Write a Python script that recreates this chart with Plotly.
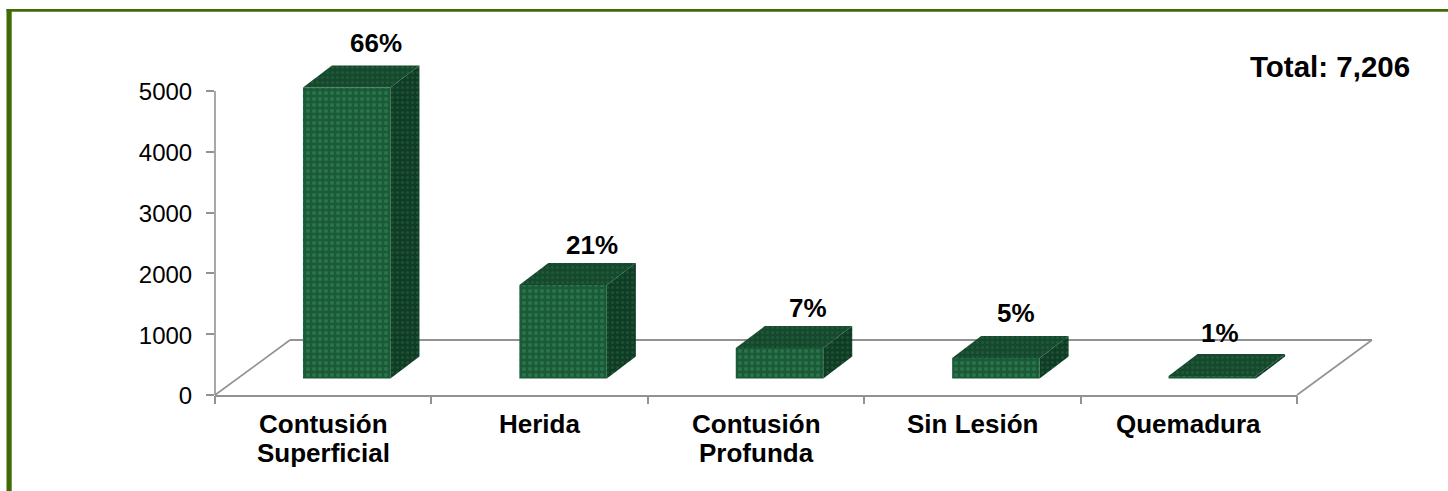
import plotly.graph_objects as go

category_lines = [["Contusión", "Superficial"], ["Herida"], ["Contusión", "Profunda"], ["Sin Lesión"], ["Quemadura"]]
values = [4786, 1538, 500, 337, 40]
percent_labels = ["66%", "21%", "7%", "5%", "1%"]
y_ticks = [0, 1000, 2000, 3000, 4000, 5000]
total_label = "Total: 7,206"

# pixel frame of the plot area
W, H = 1448, 491
LEFT, BOTTOM_PX, RIGHT_PX, TOP_PX = 215, 395, 1420, 30
PX_X = 216.4            # px per category
PX_Y = 60.8 / 1000      # px per value unit
xmax = (RIGHT_PX - LEFT) / PX_X
ymax = (BOTTOM_PX - TOP_PX) / PX_Y

# 3D look, in axis units
floor_dx, floor_dy = 75 / PX_X, 55 / PX_Y
depth_dx, depth_dy = 29 / PX_X, 22 / PX_Y
bar_w = 87.5 / PX_X
bar_shift = 0.5 + 23.5 / PX_X
bar_base = 16.5 / PX_Y

FRONT, TOP, SIDE = "#1a5a37", "#15482c", "#103c25"
AXIS = "#929292"
FONT = "Liberation Sans"

fig = go.Figure()
n = len(category_lines)

def fx(p): return (p - LEFT) / (RIGHT_PX - LEFT)
def fy(p): return (BOTTOM_PX - p) / (BOTTOM_PX - TOP_PX)

# floor and axes sit below the bars; paper coordinates so that nothing is clipped at the plot edge
def line(x0, y0, x1, y1, w):
    fig.add_shape(type="line", xref="paper", yref="paper", layer="below",
                  x0=x0 / xmax, y0=y0 / ymax, x1=x1 / xmax, y1=y1 / ymax,
                  line=dict(color=AXIS, width=w))

line(0, 0, floor_dx, floor_dy, 1.6)
line(floor_dx, floor_dy, n + floor_dx, floor_dy, 2)
line(n + floor_dx, floor_dy, n, 0, 1.6)
line(0, -1 / PX_Y, n, -1 / PX_Y, 2)
line(0, 0, 0, y_ticks[-1], 1.6)

# front faces
xs = [i + bar_shift for i in range(n)]
fig.add_trace(go.Bar(x=xs, y=values, base=bar_base, width=bar_w,
                     marker=dict(color=FRONT, line=dict(width=0),
                                 pattern=dict(shape=".", size=6, solidity=0.35, fgcolor="#3f9566",
                                              fgopacity=0.45, bgcolor=FRONT)),
                     showlegend=False))

# top and side faces, derived from the values
for xc, v in zip(xs, values):
    xl, xr = xc - bar_w / 2, xc + bar_w / 2
    y0, y1 = bar_base, bar_base + v
    fig.add_trace(go.Scatter(x=[xr, xr + depth_dx, xr + depth_dx, xr, xr],
                             y=[y0, y0 + depth_dy, y1 + depth_dy, y1, y0],
                             fill="toself", fillcolor=SIDE, mode="none",
                             fillpattern=dict(shape=".", size=5, solidity=0.3, fgcolor="#2f7a50",
                                              fgopacity=0.35, bgcolor=SIDE),
                             hoverinfo="skip", showlegend=False))
    fig.add_trace(go.Scatter(x=[xl, xr, xr + depth_dx, xl + depth_dx, xl],
                             y=[y1, y1, y1 + depth_dy, y1 + depth_dy, y1],
                             fill="toself", fillcolor=TOP, mode="none",
                             fillpattern=dict(shape=".", size=5, solidity=0.3, fgcolor="#2f7a50",
                                              fgopacity=0.35, bgcolor=TOP),
                             hoverinfo="skip", showlegend=False))

# category labels, centred between the ticks, one annotation per line
LINE_GAP = 29
for i, lines in enumerate(category_lines):
    for k, c in enumerate(lines):
        fig.add_annotation(x=i + 0.5, y=0, text=c, showarrow=False, yanchor="top", xanchor="center",
                           yshift=-12 - k * LINE_GAP,
                           font=dict(family=FONT, size=26, color="black", weight="bold"))

# percent labels, nudged as in the picture
label_dx = [14.5, 14, 14, 6, -7]
label_dy = [22.5, 18, 18, 23, 21]
for xc, v, t, dx, dy in zip(xs, values, percent_labels, label_dx, label_dy):
    fig.add_annotation(x=xc + depth_dx / 2, y=bar_base + v + depth_dy, text=t, showarrow=False,
                       xshift=dx, yshift=dy, yanchor="middle", xanchor="center",
                       font=dict(family=FONT, size=26, color="black", weight="bold"))

fig.add_annotation(x=fx(1411.5), y=fy(66.5), xref="paper", yref="paper", text=total_label, showarrow=False,
                   xanchor="right", yanchor="middle",
                   font=dict(family=FONT, size=29.5, color="black", weight="bold"))

# green frame on the top and left
BORDER = "#3f6b06"
fig.add_shape(type="rect", xref="paper", yref="paper", x0=fx(6.5), x1=fx(11.7), y0=fy(H), y1=fy(9),
              fillcolor=BORDER, line_width=0, layer="below")
fig.add_shape(type="rect", xref="paper", yref="paper", x0=fx(6.5), x1=fx(W), y0=fy(11.7), y1=fy(9),
              fillcolor=BORDER, line_width=0, layer="below")

fig.update_xaxes(range=[0, xmax], tickmode="array", tickvals=list(range(n + 1)), ticktext=[""] * (n + 1),
                 ticks="outside", ticklen=8, tickcolor=AXIS, tickwidth=1.6,
                 showgrid=False, zeroline=False, showline=False)
fig.update_yaxes(range=[0, ymax], tickmode="array", tickvals=y_ticks, ticks="outside", ticklen=8,
                 tickcolor=AXIS, tickwidth=1.6, showgrid=False, zeroline=False, showline=False,
                 ticklabelstandoff=9, ticklabelshift=1, tickfont=dict(family=FONT, size=24, color="black"))

fig.update_layout(width=W, height=H, paper_bgcolor="white", plot_bgcolor="rgba(0,0,0,0)",
                  showlegend=False, barmode="overlay",
                  margin=dict(l=LEFT, r=W - RIGHT_PX, t=TOP_PX, b=H - BOTTOM_PX, autoexpand=False))

fig.write_html("out.html", config=dict(displayModeBar=False),
               post_script="document.body.style.margin='0';")
